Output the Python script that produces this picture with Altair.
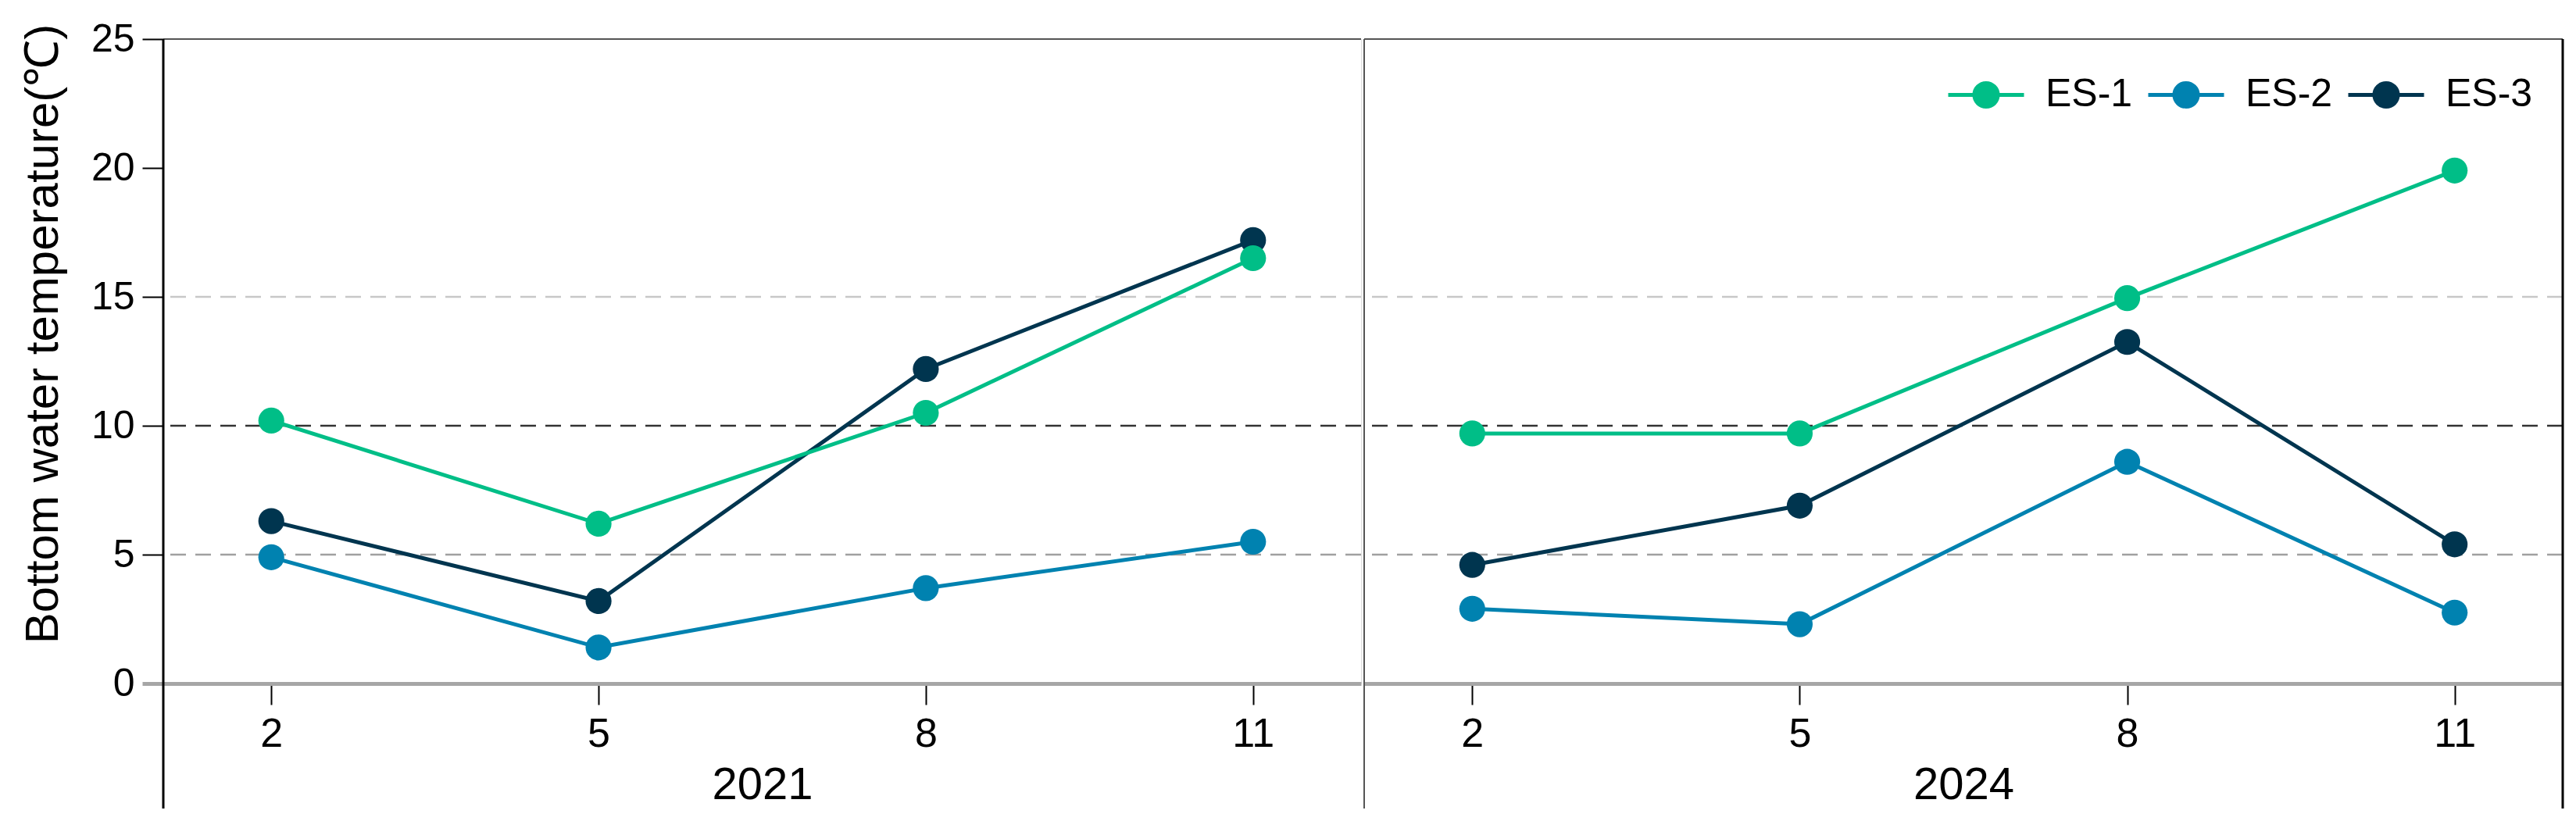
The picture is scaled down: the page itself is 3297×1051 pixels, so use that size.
import altair as alt
import pandas as pd

# ---------------- data ----------------
months = ["2", "5", "8", "11"]
years = ["2021", "2024"]
sites = ["ES-1", "ES-2", "ES-3"]
site_colors = ["#00BE87", "#0082B0", "#00354F"]

es1_2021 = [10.2, 6.2, 10.5, 16.5]
es2_2021 = [4.9, 1.4, 3.7, 5.5]
es3_2021 = [6.3, 3.2, 12.2, 17.2]

es1_2024 = [9.7, 9.7, 14.95, 19.9]
es2_2024 = [2.9, 2.3, 8.6, 2.75]
es3_2024 = [4.6, 6.9, 13.25, 5.4]

y_ticks = [0, 5, 10, 15, 20, 25]
grid_values = [5, 10, 15]
grid_colors = ["#a0a0a0", "#333333", "#c8c8c8"]

series = {
    "2021": {"ES-1": es1_2021, "ES-2": es2_2021, "ES-3": es3_2021},
    "2024": {"ES-1": es1_2024, "ES-2": es2_2024, "ES-3": es3_2024},
}

rows = []
for yr in years:
    for s in ["ES-3", "ES-2", "ES-1"]:  # ES-1 drawn last (on top)
        for m, v in zip(months, series[yr][s]):
            rows.append({"year": yr, "site": s, "month": m, "value": v})
df = pd.DataFrame(rows)

one = pd.DataFrame({"k": [0]})

# ---------------- style ----------------
FONT = "Liberation Sans, Arial, sans-serif"
H = 825
FRAME_BOTTOM = 985
W_LEFT, W_RIGHT = 1533, 1534

LEGEND_PATH = ("M-1,0L1,0M-0.31,0A0.31,0.31,0,1,1,0.31,0"
               "A0.31,0.31,0,1,1,-0.31,0Z")

yscale = alt.Scale(domain=[0, 25], nice=False, zero=True)
xscale = alt.Scale(type="point", padding=0.33)
cscale = alt.Scale(domain=sites, range=site_colors)


def make_panel(year, width, first):
    d = df[df["year"] == year]
    xaxis = alt.Axis(
        title=year, labelAngle=0, grid=False,
        domainColor="#a6a6a6", domainWidth=5,
        tickColor="black", tickWidth=2, tickSize=27,
        labelFont=FONT, labelFontSize=52, labelColor="black", labelPadding=12,
        titleFont=FONT, titleFontSize=58, titleFontWeight="normal",
        titleColor="black", titleY=130, titleBaseline="middle",
    )
    if first:
        yaxis = alt.Axis(
            title="Bottom water temperature(℃)", values=y_ticks, grid=False,
            domain=False, tickSize=27,
            tickWidth={"condition": {"test": "datum.value === 0", "value": 5}, "value": 2},
            tickColor={"condition": {"test": "datum.value === 0", "value": "#a6a6a6"},
                       "value": "black"},
            labelFont=FONT, labelFontSize=50, labelColor="black", labelPadding=10,
            titleFont=FONT, titleFontSize=60, titleFontWeight="normal",
            titleColor="black", titleX=-123, titleY=377,
        )
        legend = None
    else:
        yaxis = None
        legend = alt.Legend(
            title=None, orient="none", legendX=745, legendY=20,
            direction="horizontal", symbolType=LEGEND_PATH, symbolSize=9409,
            symbolStrokeWidth=5, symbolOpacity=1,
            labelFont=FONT, labelFontSize=50, labelColor="black",
            labelOffset=25, columnPadding=9, padding=0,
        )

    x = alt.X("month:O", sort=months, scale=xscale, axis=xaxis)
    y = alt.Y("value:Q", scale=yscale, axis=yaxis)
    color = alt.Color("site:N", scale=cscale, legend=legend)

    grids = []
    for gv, gc in zip(grid_values, grid_colors):
        grids.append(
            alt.Chart(pd.DataFrame({"value": [gv]}))
            .mark_rule(strokeDash=[20, 12], strokeWidth=2.5, color=gc)
            .encode(y=alt.Y("value:Q", scale=yscale, axis=yaxis))
        )
    lines = alt.Chart(d).mark_line(strokeWidth=5).encode(x=x, y=y, color=color)
    dots = alt.Chart(d).mark_circle(size=1100, opacity=1).encode(x=x, y=y, color=color)

    top = alt.Chart(one).mark_rule(color="#555555", strokeWidth=2).encode(
        x=alt.value(0), x2=alt.value(width), y=alt.value(0))
    if first:
        side = alt.Chart(one).mark_rule(color="black", strokeWidth=3).encode(
            x=alt.value(0), y=alt.value(0), y2=alt.value(FRAME_BOTTOM))
        layers = grids + [top, side, lines, dots]
    else:
        divider = alt.Chart(one).mark_rule(color="#555555", strokeWidth=2).encode(
            x=alt.value(0), y=alt.value(0), y2=alt.value(FRAME_BOTTOM))
        rightline = alt.Chart(one).mark_rule(color="black", strokeWidth=3).encode(
            x=alt.value(width), y=alt.value(0), y2=alt.value(FRAME_BOTTOM))
        layers = grids + [top, divider, rightline, lines, dots]
    return alt.layer(*layers).properties(width=width, height=H)


left = make_panel("2021", W_LEFT, True)
right = make_panel("2024", W_RIGHT, False)

chart = (
    alt.hconcat(left, right, spacing=0)
    .resolve_legend(color="independent")
    .properties(padding={"left": 16, "top": 16, "right": 5, "bottom": 5})
    .configure_view(stroke=None)
    .configure(background="white")
)

chart.save("out.html", embed_options={"renderer": "svg", "actions": False})
